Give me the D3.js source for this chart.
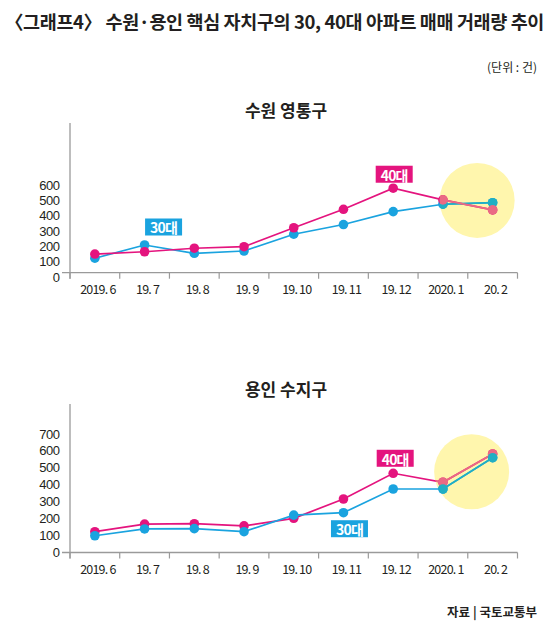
<!DOCTYPE html>
<html>
<head>
<meta charset="utf-8">
<script src="https://cdn.jsdelivr.net/npm/d3@7"></script>
<style>
  body { margin:0; background:#fff; }
  svg { display:block; }
  text { font-family:"Noto Sans CJK KR","Noto Sans",sans-serif; fill:#231f20; }
</style>
</head>
<body>
<script>
// data
var months = ["2019. 6","19. 7","19. 8","19. 9","19. 10","19. 11","19. 12","2020. 1","20. 2"];
var yeongtong30 = [124,210,156,171,280,343,427,475,485];
var yeongtong40 = [151,166,189,199,322,442,579,503,438];
var suji30 = [99,139,141,123,221,235,375,375,560];
var suji40 = [123,168,170,157,202,316,468,415,582];
var ticks1 = [0,100,200,300,400,500,600];
var ticks2 = [0,100,200,300,400,500,600,700];

var blue = "#1aa3df", pink = "#e4147e";
var blueTint = "#21afc3", pinkTint = "#ea6a84";

var svg = d3.select("body").append("svg")
    .attr("width",550)
    .attr("height",628)

// main title, fitted to width
var title = svg.append("text")
    .attr("x",5).attr("y",21)
    .attr("dominant-baseline","central")
    .style("font-size","18.5px").style("font-weight","bold")
    .text("〈그래프4〉 수원·용인 핵심 자치구의 30, 40대 아파트 매매 거래량 추이")
var tl = title.node().getComputedTextLength()
var nch = title.text().length
title.style("letter-spacing",((539-tl)/nch)+"px")

svg.append("text")
    .attr("x",537).attr("y",66)
    .attr("text-anchor","end").attr("dominant-baseline","central")
    .style("font-size","12px")
    .text("(단위 : 건)")

svg.append("text")
    .attr("x",537).attr("y",611)
    .attr("text-anchor","end").attr("dominant-baseline","central")
    .style("font-size","12.5px").style("font-weight","bold")
    .text("자료 | 국토교통부")

var x = d3.scaleBand().domain(months).range([70,517.5]).padding(0)

var panels = [
    {name:"수원 영통구", titleY:109, s30:yeongtong30, s40:yeongtong40, ticks:ticks1,
     domain:[0,600], range:[277.3,185], top:123, baseShift:-4.6,
     order:["30","40"], glow:{v:500, dx:-15.5},
     tags:[{s:"30",i:1,dx:19,dy:-18},{s:"40",i:6,dx:1,dy:-14}]},
    {name:"용인 수지구", titleY:388.5, s30:suji30, s40:suji40, ticks:ticks2,
     domain:[0,700], range:[552.5,434], top:404, baseShift:0,
     order:["40","30"], glow:{v:477, dx:-21},
     tags:[{s:"40",i:6,dx:2,dy:-15},{s:"30",i:5,dx:6,dy:16}]}
]

panels.forEach(function(p,pi){
    var y = d3.scaleLinear().domain(p.domain).range(p.range)
    var g = svg.append("g")
    var base = y(0) + p.baseShift

    g.append("text")
        .attr("x",286).attr("y",p.titleY)
        .attr("text-anchor","middle").attr("dominant-baseline","central")
        .style("font-size","17px").style("font-weight","bold")
        .text(p.name)

    // axes
    g.append("line")
        .attr("x1",x.range()[0]).attr("x2",x.range()[0])
        .attr("y1",p.top).attr("y2",base+6)
        .attr("stroke","#9a9a9a").attr("stroke-width",1.3)
    g.append("line")
        .attr("x1",x.range()[0]-8).attr("x2",x.range()[1])
        .attr("y1",base).attr("y2",base)
        .attr("stroke","#9a9a9a").attr("stroke-width",1.3)
    var edges = months.map(function(m){ return x(m) }).concat([x.range()[1]])
    edges.forEach(function(e){
        g.append("line")
            .attr("x1",e).attr("x2",e)
            .attr("y1",base).attr("y2",base+6)
            .attr("stroke","#9a9a9a").attr("stroke-width",1.2)
    })
    months.forEach(function(m){
        g.append("text")
            .attr("x",x(m)+x.bandwidth()/2+3).attr("y",base+16)
            .attr("text-anchor","middle").attr("dominant-baseline","central")
            .style("font-size","12.5px").style("letter-spacing","-0.8px")
            .text(m)
    })
    p.ticks.forEach(function(t){
        g.append("text")
            .attr("x",59.5).attr("y",y(t))
            .attr("text-anchor","end").attr("dominant-baseline","central")
            .style("font-family","'Liberation Sans',Arial,sans-serif")
            .style("font-size","13px").style("letter-spacing","-0.5px")
            .text(t)
    })

    // yellow highlight
    var gx = x(months[8]) + x.bandwidth()/2 + p.glow.dx
    var gy = y(p.glow.v)
    g.append("circle")
        .attr("cx",gx).attr("cy",gy).attr("r",37.5)
        .attr("fill","#fff6ad")
    svg.append("clipPath").attr("id","clip"+pi)
        .append("circle").attr("cx",gx).attr("cy",gy).attr("r",37.5)

    var line = d3.line()
        .x(function(d,i){ return x(months[i])+x.bandwidth()/2 })
        .y(function(d){ return y(d) })

    function drawSeries(layer, vals, col){
        layer.append("path")
            .attr("d",line(vals))
            .attr("fill","none").attr("stroke",col).attr("stroke-width",1.7)
        vals.forEach(function(v,i){
            layer.append("circle")
                .attr("cx",x(months[i])+x.bandwidth()/2).attr("cy",y(v))
                .attr("r",4.8).attr("fill",col)
        })
    }
    var normal = g.append("g")
    var tinted = g.append("g").attr("clip-path","url(#clip"+pi+")")
    p.order.forEach(function(s){
        var vals = s=="30" ? p.s30 : p.s40
        drawSeries(normal, vals, s=="30" ? blue : pink)
    })
    p.order.forEach(function(s){
        var vals = s=="30" ? p.s30 : p.s40
        drawSeries(tinted, vals, s=="30" ? blueTint : pinkTint)
    })

    // series tags
    p.tags.forEach(function(t){
        var vals = t.s=="30" ? p.s30 : p.s40
        var cx = x(months[t.i])+x.bandwidth()/2+t.dx
        var cy = y(vals[t.i])+t.dy
        g.append("rect")
            .attr("x",cx-18.5).attr("y",cy-8.5)
            .attr("width",37).attr("height",17)
            .attr("fill",t.s=="30" ? blue : pink)
        g.append("text")
            .attr("x",cx).attr("y",cy+0.5)
            .attr("text-anchor","middle").attr("dominant-baseline","central")
            .style("font-size","14px").style("font-weight","bold")
            .style("letter-spacing","-0.8px")
            .style("fill","#fff")
            .text(t.s+"대")
    })
})
</script>
</body>
</html>
